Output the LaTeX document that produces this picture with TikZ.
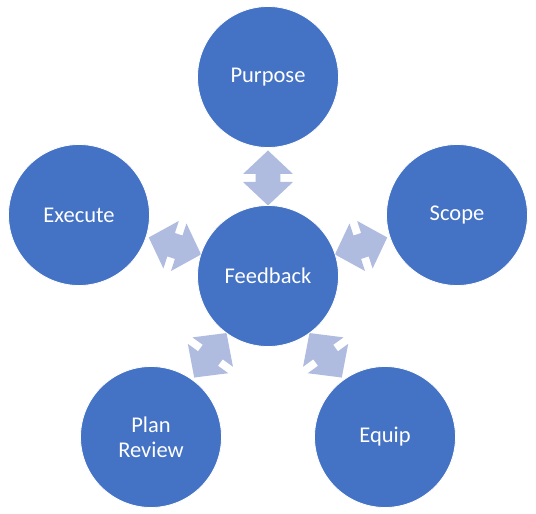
\documentclass[tikz,border=0pt]{standalone}
\usepackage{fontspec}
\setmainfont{Carlito}
\usetikzlibrary{calc}
\pgfdeclarelayer{background}
\pgfsetlayers{background,main}
\definecolor{circfill}{RGB}{68,114,196}
\definecolor{arrowfill}{RGB}{175,188,224}
\tikzset{
  bubble/.style={circle, fill=circfill, draw=white, line width=0.8pt, text=white,
    minimum size=141pt, inner sep=0pt, align=center,
    font=\fontsize{22.5}{25}\selectfont},
  dblarr/.pic={\fill[arrowfill] (-27.5pt,0pt)--(-4pt,25pt)--(-4pt,12.3pt)--(4pt,12.3pt)--(4pt,25pt)--(27.5pt,0pt)--(4pt,-25pt)--(4pt,-12.3pt)--(-4pt,-12.3pt)--(-4pt,-25pt)--cycle;}
}
\begin{document}
\begin{tikzpicture}[x=1pt,y=-1pt]
\useasboundingbox (0,0) rectangle (536,514);
\node[bubble] (fb) at (268,276) {Feedback};
\node[bubble] (pur) at (268,77) {Purpose};
\node[bubble] (sco) at (457,215) {Scope};
\node[bubble] (exe) at (79,215) {Execute};
\node[bubble] (equ) at (385,437) {Equip};
\node[bubble] (plr) at (151,437) {Plan\\Review};
\begin{pgfonlayer}{background}
\pic[rotate=90] at ($(fb)!0.4925!(pur)$) {dblarr};
\pic[rotate=18] at ($(fb)!0.4925!(sco)$) {dblarr};
\pic[rotate=162] at ($(fb)!0.4925!(exe)$) {dblarr};
\pic[rotate=-54] at ($(fb)!0.4925!(equ)$) {dblarr};
\pic[rotate=-126] at ($(fb)!0.4925!(plr)$) {dblarr};
\end{pgfonlayer}
\end{tikzpicture}
\end{document}
